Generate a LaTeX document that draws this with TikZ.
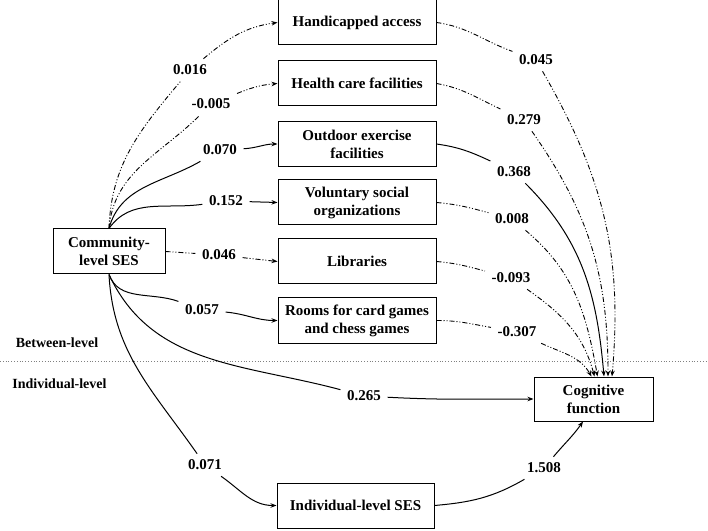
\documentclass[tikz,border=0pt]{standalone}
\usepackage{fontspec}
\setmainfont{Liberation Serif}
\usetikzlibrary{arrows.meta,calc}
\begin{document}
\begin{tikzpicture}[x=1pt,y=1pt,
  txt/.style={font=\fontsize{15}{18}\selectfont\bfseries},
  box/.style={txt, draw, line width=1pt, inner sep=0pt, align=center},
  mbox/.style={box, minimum width=158pt, minimum height=45pt},
  lab/.style={txt, inner xsep=6.5pt, inner ysep=6pt},
  side/.style={font=\fontsize{14}{16}\selectfont\bfseries, inner sep=0pt},
  sl/.style={line width=1pt},
  ds/.style={line width=0.9pt, dash pattern=on 5pt off 2pt on 1pt off 2pt on 1pt off 2pt},
  tip/.style={-{Stealth[length=6pt,width=4.5pt]}},
]
\useasboundingbox (0,0) rectangle (708,530);
% separator
\draw[gray, dotted, line width=0.8pt] (0,169) -- (708,169);
\node[side] (bl) at (57,187) {Between-level};
\node[side] (il) at (59.5,146) {Individual-level};
% boxes
\node[mbox] (ha) at (357,507.5) {Handicapped access};
\node[mbox] (hc) at (357,446.5) {Health care facilities};
\node[mbox] (oe) at (357,386) {Outdoor exercise\\facilities};
\node[mbox] (vs) at (357,327.5) {Voluntary social\\organizations};
\node[mbox] (lib) at (357,268.5) {Libraries};
\node[mbox] (rooms) at (357,209.5) {Rooms for card games\\and chess games};
\node[box, minimum width=112pt, minimum height=45pt] (com) at (109,278.5) {Community-\\level SES};
\node[box, minimum width=119pt, minimum height=44pt] (cog) at (593.5,131) {Cognitive\\function};
\node[box, minimum width=157pt, minimum height=45pt] (ind) at (355.5,24.5) {Individual-level SES};
% labels
\node[lab] (l016) at (190,460) {0.016};
\node[lab] (l005) at (211,426) {-0.005};
\node[lab] (l070) at (220,380) {0.070};
\node[lab] (l152) at (226,329) {0.152};
\node[lab] (l046) at (219,275) {0.046};
\node[lab] (l057) at (202,220) {0.057};
\node[lab] (l265) at (364,134) {0.265};
\node[lab] (l071) at (205,65) {0.071};
\node[lab] (l1508) at (544,62) {1.508};
\node[lab] (l045) at (536,470) {0.045};
\node[lab] (l279) at (524,410) {0.279};
\node[lab] (l368) at (514,358) {0.368};
\node[lab] (l008) at (512,311) {0.008};
\node[lab] (l093) at (511,252) {-0.093};
\node[lab] (l307) at (517,198) {-0.307};
% community -> mediators
\draw[ds] (com.north) to[out=88,in=-130] (l016);
\draw[ds,tip] (l016) to[out=40,in=188] (ha.west);
\draw[ds] (com.north) to[out=85,in=-135] (l005);
\draw[ds,tip] (l005) to[out=22,in=185] (hc.west);
\draw[sl] (com.north) to[out=75,in=-150] (l070);
\draw[sl,tip] (l070) to[out=3,in=180] (oe.west);
\draw[sl] (com.north) to[out=55,in=-172] (l152);
\draw[sl,tip] (l152) -- (vs.west);
\draw[ds] (com.east) -- (l046);
\draw[ds,tip] (l046) -- (lib.west);
\draw[sl] (com.south) to[out=-70,in=160] (l057);
\draw[sl,tip] (l057) to[out=-5,in=180] (rooms.west);
\draw[sl] (com.south) to[out=-65,in=165] (l265);
\draw[sl,tip] (l265) to[out=-3,in=180] (cog.west);
\draw[sl] (com.south) to[out=-87,in=125] (l071);
\draw[sl,tip] (l071) to[out=-35,in=180] (ind.west);
\draw[sl] (ind.east) to[out=5,in=-150] (l1508);
\draw[sl,tip] (l1508) to[out=50,in=-125] (cog.-115);
% mediators -> cognitive
\draw[ds] (ha.east) to[out=-8,in=160] (l045);
\draw[ds,tip] (l045) to[out=-60,in=85] ($(cog.north)+(18.5,0)$);
\draw[ds] (hc.east) to[out=-10,in=155] (l279);
\draw[ds,tip] (l279) to[out=-55,in=90] ($(cog.north)+(14.5,0)$);
\draw[sl] (oe.east) to[out=-8,in=155] (l368);
\draw[sl,tip] (l368) to[out=-45,in=95] ($(cog.north)+(10.5,0)$);
\draw[ds] (vs.east) to[out=-5,in=165] (l008);
\draw[ds,tip] (l008) to[out=-40,in=100] ($(cog.north)+(4,0)$);
\draw[ds] (lib.east) to[out=-5,in=165] (l093);
\draw[ds,tip] (l093) to[out=-35,in=105] ($(cog.north)+(1,0)$);
\draw[ds] (rooms.east) to[out=0,in=170] (l307);
\draw[ds,tip] (l307) to[out=-25,in=120] ($(cog.north)+(-2,0)$);
\end{tikzpicture}
\end{document}
